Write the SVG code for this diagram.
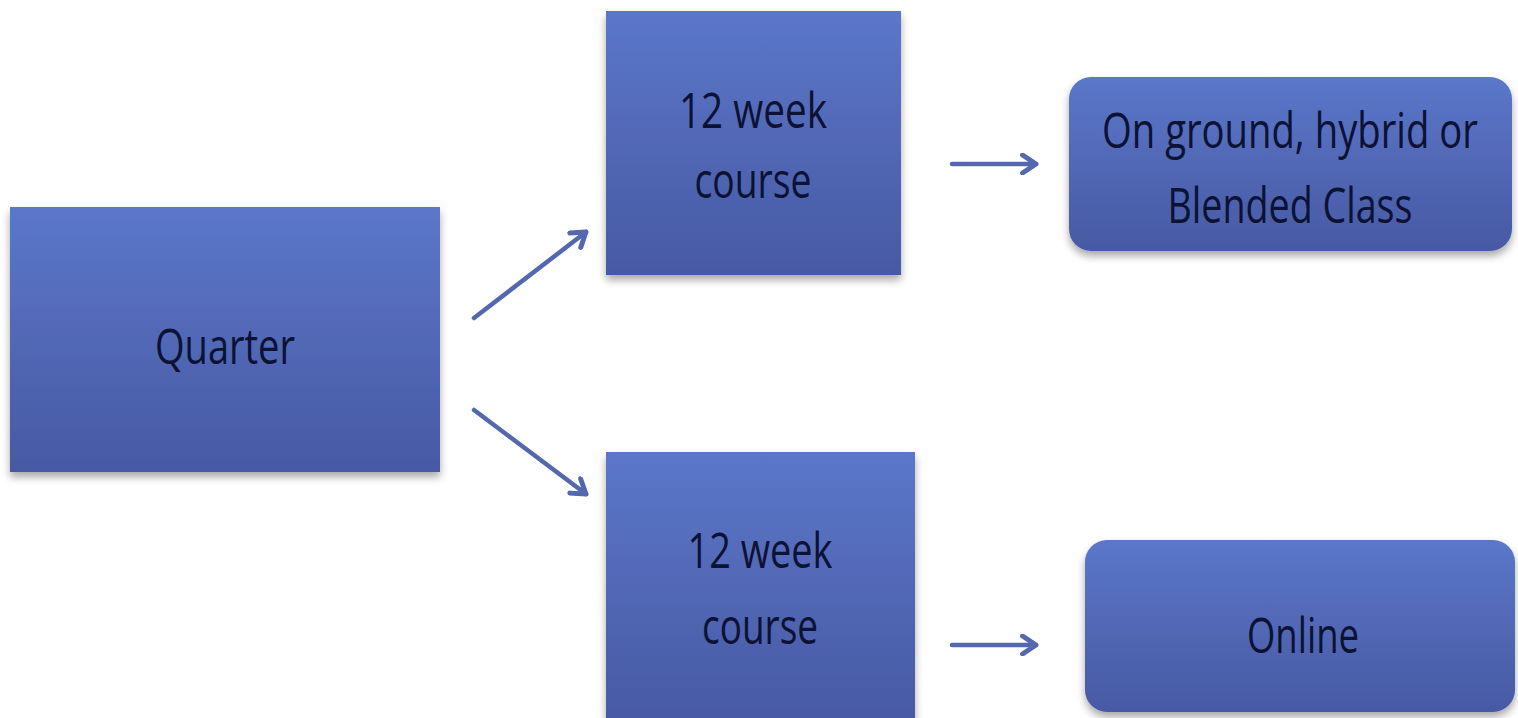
<svg xmlns="http://www.w3.org/2000/svg" width="1518" height="718" viewBox="0 0 1518 718">
<defs>
<linearGradient id="g" x1="0" y1="0" x2="0" y2="1">
<stop offset="0" stop-color="#5b77c9"/>
<stop offset="1" stop-color="#4859a3"/>
</linearGradient>
<filter id="sh" x="-10%" y="-10%" width="120%" height="130%">
<feGaussianBlur in="SourceAlpha" stdDeviation="4"/>
<feOffset dx="0" dy="5" result="b"/>
<feComponentTransfer><feFuncA type="linear" slope="0.35"/></feComponentTransfer>
<feMerge><feMergeNode/><feMergeNode in="SourceGraphic"/></feMerge>
</filter>
<marker id="ah" viewBox="0 0 10 10" refX="8" refY="5" markerWidth="5" markerHeight="5" orient="auto" markerUnits="strokeWidth">
<path d="M2,1 L8,5 L2,9" fill="none" stroke="#5468b0" stroke-width="2.2" stroke-linecap="round" stroke-linejoin="round"/>
</marker>
<style>
.box{fill:url(#g);filter:url(#sh)}
.t{font-family:"Open Sans","Liberation Sans",sans-serif;font-size:50px;fill:#0b1233;text-anchor:middle}
.c{stroke:#5468b0;stroke-width:4.5;fill:none;stroke-linecap:round;marker-end:url(#ah)}
</style>
</defs>
<rect width="1518" height="718" fill="#ffffff"/>
<g id="quarter">
<rect class="box" x="10" y="207" width="430" height="265"/>
<text class="t" x="225" y="364" textLength="140" lengthAdjust="spacingAndGlyphs">Quarter</text>
</g>
<g id="course1">
<rect class="box" x="606" y="11" width="295" height="264"/>
<text class="t" x="753" y="128" textLength="148" lengthAdjust="spacingAndGlyphs">12 week</text>
<text class="t" x="753" y="198" textLength="117" lengthAdjust="spacingAndGlyphs">course</text>
</g>
<g id="onground">
<rect class="box" x="1069" y="77" width="443" height="174" rx="22"/>
<text class="t" x="1290" y="148" textLength="376" lengthAdjust="spacingAndGlyphs">On ground, hybrid or</text>
<text class="t" x="1290" y="223" textLength="245" lengthAdjust="spacingAndGlyphs">Blended Class</text>
</g>
<g id="course2">
<rect class="box" x="606" y="452" width="309" height="270"/>
<text class="t" x="760" y="568" textLength="145" lengthAdjust="spacingAndGlyphs">12 week</text>
<text class="t" x="760" y="644" textLength="116" lengthAdjust="spacingAndGlyphs">course</text>
</g>
<g id="online">
<rect class="box" x="1085" y="540" width="430" height="172" rx="22"/>
<text class="t" x="1303" y="653" textLength="112" lengthAdjust="spacingAndGlyphs">Online</text>
</g>
<g id="connectors">
<line class="c" x1="474" y1="318" x2="586" y2="232"/>
<line class="c" x1="474" y1="410" x2="586" y2="494"/>
<line class="c" x1="952" y1="164" x2="1036" y2="164"/>
<line class="c" x1="952" y1="645" x2="1036" y2="645"/>
</g>
</svg>
